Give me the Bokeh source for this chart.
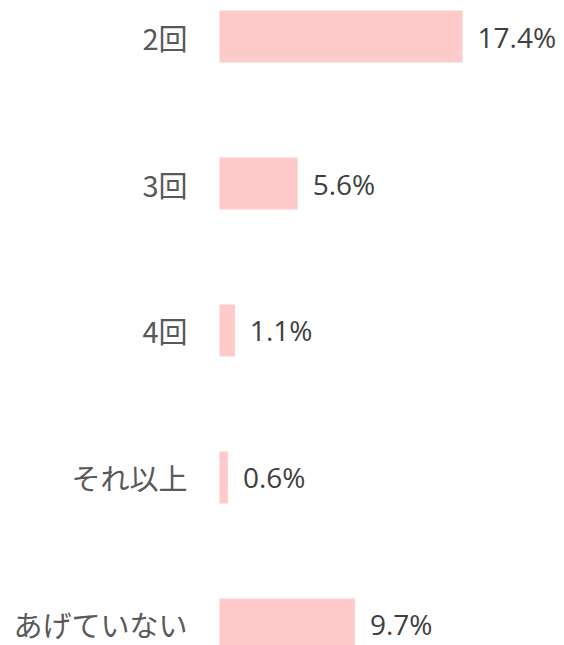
from bokeh.plotting import figure
from bokeh.models import Range1d, ColumnDataSource
from bokeh.core.properties import value
from bokeh.embed import file_html
from bokeh.resources import INLINE

categories = ["2回", "3回", "4回", "それ以上", "あげていない"]
percents = [17.4, 5.6, 1.1, 0.6, 9.7]
value_labels = ["17.4%", "5.6%", "1.1%", "0.6%", "9.7%"]

positions = list(range(len(categories)))
src = ColumnDataSource(dict(y=positions, v=percents, cat=categories,
                            lab=value_labels, zero=[0] * len(categories)))

p = figure(width=564, height=645, output_backend="svg", toolbar_location=None,
           x_range=Range1d(-15.68, 24.7), y_range=Range1d(4.143, -0.245),
           min_border=0, outline_line_color=None)
p.axis.visible = False
p.grid.visible = False

p.hbar(y="y", left=0, right="v", height=0.354, source=src,
       fill_color="#FFCACA", line_color=None)

p.text(x="zero", y="y", text="cat", source=src, x_offset=-32,
       text_align="right", text_baseline="middle",
       text_font=value("Noto Sans CJK JP"), text_font_size="29px",
       text_color="#595959")

p.text(x="v", y="y", text="lab", source=src, x_offset=15,
       text_align="left", text_baseline="middle",
       text_font=value("Open Sans"), text_font_size="28px",
       text_color="#404040")

open("out.html", "w").write(file_html(p, INLINE))
